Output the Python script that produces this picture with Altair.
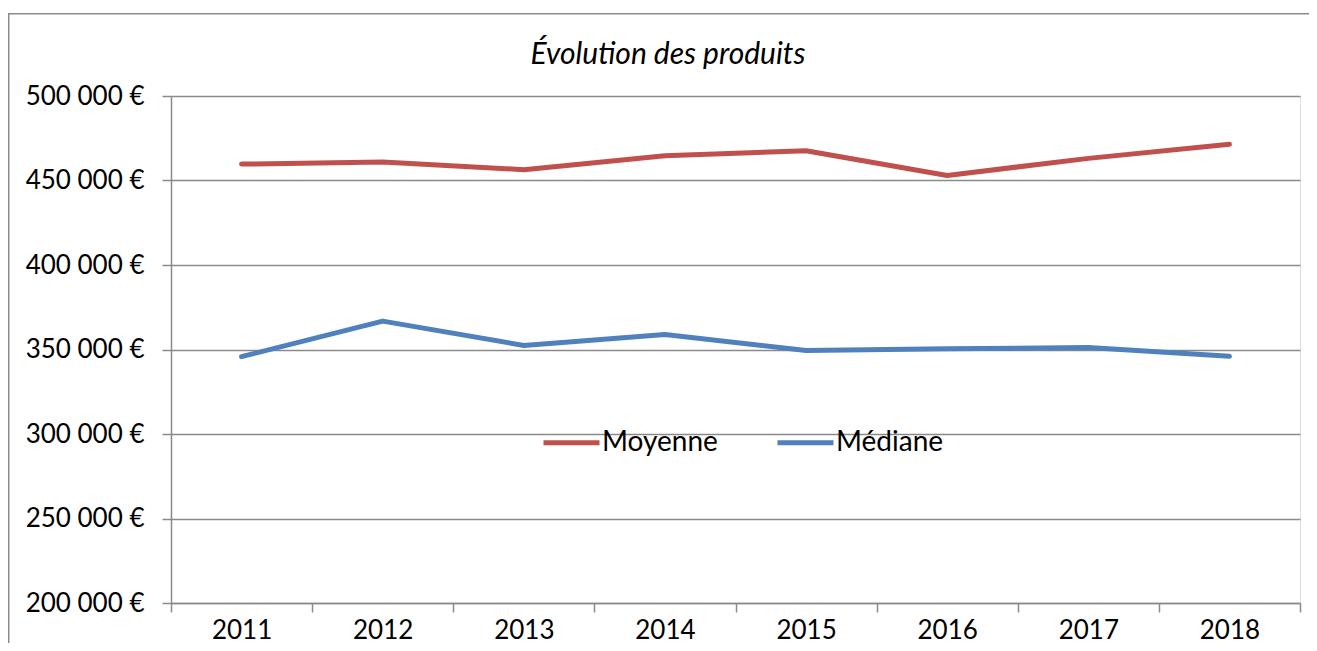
import altair as alt
import pandas as pd

years = ["2011", "2012", "2013", "2014", "2015", "2016", "2017", "2018"]
moyenne = [459700, 460900, 456400, 464700, 467600, 453000, 463100, 471400]
mediane = [345800, 366800, 352400, 358900, 349400, 350400, 351200, 346000]
series_names = ["Moyenne", "Médiane"]
series_colors = ["#C0504D", "#4F81BD"]
y_ticks = [200000, 250000, 300000, 350000, 400000, 450000, 500000]
title_text = ["Évolution des produits"]

rows = []
for name, vals in zip(series_names, [moyenne, mediane]):
    for yr, v in zip(years, vals):
        rows.append({"year": yr, "value": v, "serie": name})
df = pd.DataFrame(rows)

FONT = "Lato"
GRID = "#8a8a8a"
W, H = 1129, 507

lines = alt.Chart(df).mark_line(strokeWidth=5, strokeCap="round", strokeJoin="round").encode(
    x=alt.X("year:O", bandPosition=0.5,
            scale=alt.Scale(type="band", paddingInner=0, paddingOuter=0),
            axis=alt.Axis(title=None, tickBand="extent", tickSize=9, labelPadding=5,
                          labelAngle=0, grid=False, domainColor=GRID, tickColor=GRID,
                          domainWidth=1.5, tickWidth=1.5,
                          labelFont=FONT, labelFontSize=26, labelColor="black")),
    y=alt.Y("value:Q",
            scale=alt.Scale(domain=[200000, 500000], nice=False, zero=False),
            axis=alt.Axis(title=None, values=y_ticks, tickSize=9, labelPadding=18,
                          labelExpr="replace(format(datum.value, ','), ',', ' ') + ' €'",
                          grid=True, gridColor=GRID, gridWidth=1.5,
                          domainColor=GRID, tickColor=GRID, domainWidth=1.5, tickWidth=1.5,
                          labelFont=FONT, labelFontSize=26, labelColor="black")),
    color=alt.Color("serie:N",
                    scale=alt.Scale(domain=series_names, range=series_colors),
                    sort=series_names,
                    legend=alt.Legend(orient="none", legendX=370, legendY=316,
                                      direction="horizontal", title=None,
                                      symbolType="stroke", symbolSize=3136,
                                      symbolStrokeWidth=5, labelFont=FONT,
                                      labelFontSize=28, labelColor="black",
                                      columnPadding=49, labelOffset=0, padding=0)),
)

title = alt.Chart(alt.Data(values=[{"t": t} for t in title_text])).mark_text(
    font=FONT, fontSize=30, fontStyle="italic", color="black",
    align="center", baseline="alphabetic"
).encode(text="t:N", x=alt.value(497), y=alt.value(-32))

border = alt.Chart(alt.Data(values=[{"a": 1}])).mark_rect(
    fillOpacity=0, stroke="#8c8c8c", strokeWidth=1.5
).encode(
    x=alt.value(-162.25), x2=alt.value(W + 300),
    y=alt.value(-82.3), y2=alt.value(H + 300),
)

chart = alt.layer(border, title, lines).properties(
    width=W, height=H,
    autosize=alt.AutoSizeParams(type="none"),
    padding={"left": 163, "top": 88, "right": 9, "bottom": 40},
).configure_view(stroke=None).configure(background="white")

chart.save("out.html", embed_options={"renderer": "svg", "actions": False})
